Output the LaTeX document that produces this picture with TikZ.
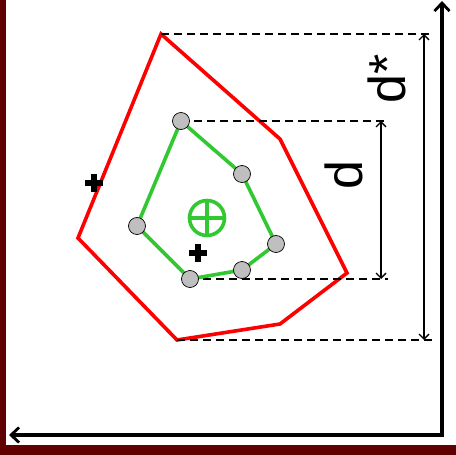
\documentclass[tikz,border=0pt]{standalone}
\usepackage{fontspec}
\setsansfont{Liberation Sans}
\usetikzlibrary{arrows.meta}
\definecolor{framered}{RGB}{96,0,0}
\definecolor{hullred}{RGB}{255,0,0}
\definecolor{hullgreen}{RGB}{50,200,50}

\begin{document}
\begin{tikzpicture}[x=1pt,y=-1pt,
  hull/.style={line width=3.6pt, line join=miter},
  sample/.style={circle, draw=black, line width=0.7pt, fill=black!25, minimum size=17pt, inner sep=0pt},
  guide/.style={dash pattern=on 8pt off 5pt, line width=1.9pt},
  dim/.style={line width=1.3pt, {Straight Barb[length=5pt,width=10pt]}-{Straight Barb[length=5pt,width=10pt]}},
  axis/.style={line width=3.4pt, -{Straight Barb[length=8pt,width=15pt,line width=2.8pt]}},
  lbl/.style={rotate=90, anchor=base, inner sep=0pt, font=\fontsize{52}{52}\selectfont\sffamily}]

\useasboundingbox (0,0) rectangle (456,455);

%frame
\fill[framered] (0,0) rectangle (6,455);
\fill[framered] (0,445) rectangle (456,455);

%outer hull
\coordinate (r1) at (161,34);
\coordinate (r2) at (280,139);
\coordinate (r3) at (347,273);
\coordinate (r4) at (280,324);
\coordinate (r5) at (177,340);
\coordinate (r6) at (78,238);
\draw[hull, hullred] (r1) -- (r2) -- (r3) -- (r4) -- (r5) -- (r6) -- cycle;

%inner points
\coordinate (g1) at (181,121);
\coordinate (g2) at (242,174);
\coordinate (g3) at (276,244);
\coordinate (g4) at (242,270);
\coordinate (g5) at (190,279);
\coordinate (g6) at (137,226);

%guides
\coordinate (dt) at (431,34);
\coordinate (db) at (432,340);
\coordinate (it) at (387,121);
\coordinate (ib) at (388,279);
\draw[guide] (r1) -- (dt);
\draw[guide] (r5) -- (db);
\draw[guide] (g1) -- (it);
\draw[guide] (g5) -- (ib);

%inner hull
\draw[hull, hullgreen] (g1) -- (g2) -- (g3) -- (g4) -- (g5) -- (g6) -- cycle;
\foreach \i in {1,...,6}{
  \node[sample] (p\i) at (g\i) {};
}

%crosses
\coordinate (c1) at (94,183);
\coordinate (c2) at (198,253);
\foreach \c in {c1,c2}{
  \draw[line width=6.5pt] ([xshift=-9pt]\c) -- ([xshift=9pt]\c);
  \draw[line width=6.5pt] ([yshift=-9pt]\c) -- ([yshift=9pt]\c);
}

%centre
\node[circle, draw=hullgreen, line width=3.6pt, minimum size=35pt, inner sep=0pt] (m) at (207,218) {};
\draw[hullgreen, line width=3.6pt] (m.north) -- (m.south);
\draw[hullgreen, line width=3.6pt] (m.west) -- (m.east);

%dimensions
\coordinate (dst) at (424,34);
\coordinate (dsb) at (424,340);
\coordinate (dit) at (381,121);
\coordinate (dib) at (381,279);
\draw[dim] (dst) -- (dsb);
\draw[dim] (dit) -- (dib);
\node[lbl] (ld) at (362,175) {d};
\node[lbl] (lds) at (405,79) {d*};

%axes
\coordinate (o) at (442,435);
\coordinate (ytop) at (442,1);
\coordinate (xleft) at (9,435);
\draw[axis] (o) -- (ytop);
\draw[axis] ([xshift=1.7pt]o) -- (xleft);

\end{tikzpicture}
\end{document}
